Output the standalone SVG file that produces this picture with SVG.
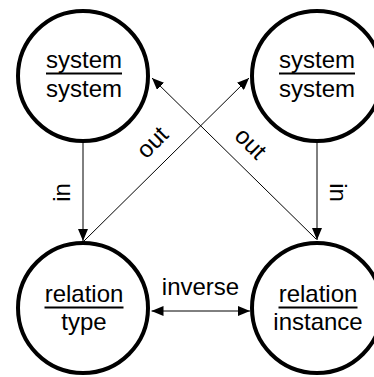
<svg xmlns="http://www.w3.org/2000/svg" width="374" height="377" viewBox="0 0 374 377">
<style>
.node circle{fill:#fff;stroke:#000;stroke-width:4}
text{font-family:"Liberation Sans",Arial,sans-serif;font-size:24px;fill:#000}
.c{text-anchor:middle}
.ul{stroke:#000;stroke-width:2}
.edge{stroke:#000;stroke-width:1;fill:none}
</style>
<defs>
<marker id="ah" viewBox="0 0 12 10" markerUnits="userSpaceOnUse" markerWidth="12" markerHeight="10" refX="12" refY="5" orient="auto-start-reverse">
<path d="M0,0 L12,5 L0,10 z" fill="#000"/>
</marker>
</defs>
<rect width="374" height="377" fill="#fff"/>
<g id="sys1" class="node">
<circle cx="83" cy="76" r="65"/>
<text class="c" x="84" y="68">system</text>
<line class="ul" x1="46" y1="73.5" x2="122" y2="73.5"/>
<text class="c" x="84" y="97">system</text>
</g>
<g id="sys2" class="node">
<circle cx="317" cy="76" r="65"/>
<text class="c" x="317" y="68">system</text>
<line class="ul" x1="279" y1="73.5" x2="355" y2="73.5"/>
<text class="c" x="317" y="97">system</text>
</g>
<g id="reltype" class="node">
<circle cx="83" cy="308" r="65"/>
<text class="c" x="84" y="302">relation</text>
<line class="ul" x1="44.5" y1="307.5" x2="123.5" y2="307.5"/>
<text class="c" x="84" y="330">type</text>
</g>
<g id="relinst" class="node">
<circle cx="317" cy="308" r="65"/>
<text class="c" x="318" y="302">relation</text>
<line class="ul" x1="278.5" y1="307.5" x2="357.5" y2="307.5"/>
<text class="c" x="318" y="330">instance</text>
</g>
<g id="connectors">
<line class="edge" x1="83" y1="143" x2="83" y2="241" marker-end="url(#ah)"/>
<line class="edge" x1="317" y1="143" x2="317" y2="240" marker-end="url(#ah)"/>
<line class="edge" x1="84" y1="241" x2="249" y2="78" marker-end="url(#ah)"/>
<line class="edge" x1="316" y1="239" x2="152" y2="78" marker-end="url(#ah)"/>
<line class="edge" x1="151.5" y1="311" x2="250" y2="311" marker-start="url(#ah)" marker-end="url(#ah)"/>
<text class="c" transform="translate(70,192.5) rotate(-90)">in</text>
<text class="c" transform="translate(330,192.5) rotate(90)">in</text>
<text class="c" transform="translate(158,148) rotate(-45)">out</text>
<text class="c" transform="translate(245,149) rotate(45)">out</text>
<text class="c" x="200.5" y="295">inverse</text>
</g>
</svg>
